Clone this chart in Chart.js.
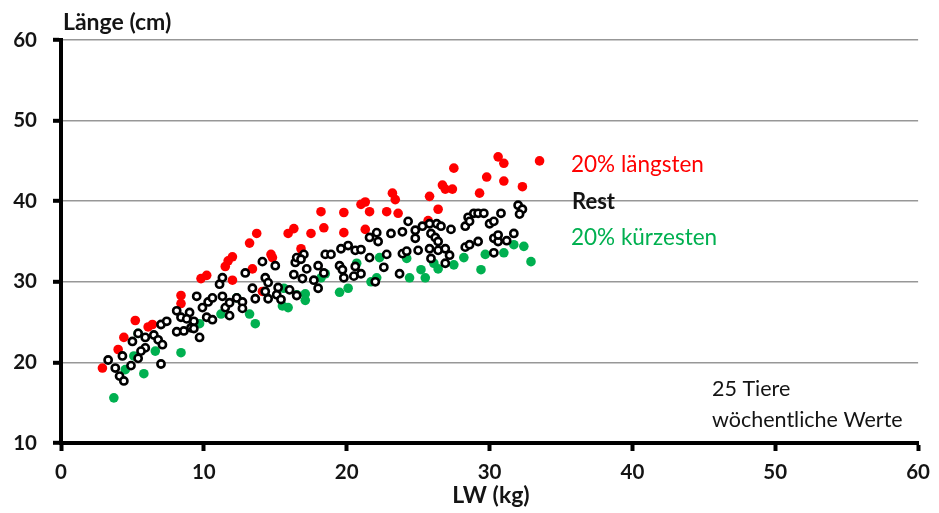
<!DOCTYPE html>
<html>
<head>
<meta charset="utf-8">
<script src="https://cdn.jsdelivr.net/npm/chart.js@4/dist/chart.umd.min.js"></script>
<style>
  html, body { margin: 0; padding: 0; background: #fff; }
  #wrap { width: 939px; height: 513px; position: relative; }
</style>
</head>
<body>
<div id="wrap"><canvas id="c" width="939" height="513"></canvas></div>
<script>
// ---- data (LW in kg, Länge in cm) ----
const xTicks = [0, 10, 20, 30, 40, 50, 60];
const yTicks = [10, 20, 30, 40, 50, 60];
const seriesNames = ["20% längsten", "Rest", "20% kürzesten"];
const noteLines = ["25 Tiere", "wöchentliche Werte"];
const axisTitleX = "LW (kg)";
const axisTitleY = "Länge (cm)";

const longestPoints = [
  [2.9,19.3],[4.0,21.6],[4.4,23.1],[5.2,25.2],[6.1,24.4],[6.4,24.7],[8.4,28.3],[8.4,27.3],
  [9.8,30.4],[10.2,30.8],[11.5,31.9],[11.7,32.6],[12.0,33.1],[12.0,30.2],[13.2,34.8],[13.7,36.0],
  [13.4,31.6],[14.7,33.4],[14.8,33.0],[14.1,28.8],[15.9,36.0],[16.3,36.6],[16.8,34.1],[17.5,36.0],
  [18.2,38.7],[18.4,36.7],[19.8,38.6],[19.8,36.1],[21.0,39.6],[21.3,39.9],[21.6,38.7],[21.3,36.5],
  [22.8,38.7],[23.6,38.5],[23.2,41.0],[23.4,40.2],[25.8,40.6],[26.4,39.0],[25.7,37.6],[26.7,42.0],
  [26.9,41.5],[27.4,41.5],[27.5,44.1],[29.3,41.0],[29.8,43.0],[31.0,42.5],[30.6,45.5],[31.0,44.7],
  [32.3,41.8],[33.5,45.0]
];

const restPoints = [
  [3.3,20.3],[3.8,19.3],[4.1,18.3],[4.4,17.7],[4.3,20.8],[5.0,22.6],[5.4,23.6],[5.9,23.1],
  [5.9,21.8],[5.6,21.4],[5.4,20.5],[4.9,19.6],[6.5,23.4],[6.8,22.8],[7.1,22.2],[7.0,19.8],
  [7.0,24.7],[7.4,25.1],[8.1,26.4],[8.4,25.6],[9.0,26.2],[9.3,25.1],[8.1,23.8],[8.6,23.9],
  [9.1,24.3],[9.5,28.2],[8.8,25.4],[9.7,23.1],[10.2,25.6],[10.6,25.3],[9.9,26.8],[10.3,27.5],
  [10.6,28.0],[11.1,29.7],[11.3,30.5],[11.3,28.2],[11.5,26.8],[11.8,27.4],[11.8,25.8],[9.3,24.2],
  [12.3,28.0],[12.7,27.5],[12.7,26.7],[12.9,31.1],[13.4,29.2],[13.6,27.9],[14.1,32.5],[14.3,30.5],
  [14.5,29.9],[14.3,28.8],[14.5,27.9],[15.0,32.0],[15.1,28.4],[15.4,27.8],[15.2,29.3],[16.0,29.0],
  [16.3,30.9],[16.4,32.4],[16.5,33.0],[17.0,33.4],[16.8,32.8],[17.2,31.6],[16.9,30.4],[17.7,30.2],
  [18.0,32.0],[18.0,29.2],[18.5,33.4],[18.9,33.4],[18.4,31.1],[16.5,28.3],[19.6,34.1],[20.1,34.5],
  [19.5,32.0],[19.7,31.5],[19.8,30.5],[20.5,30.7],[20.6,31.9],[20.6,33.9],[21.0,34.0],[21.6,35.5],
  [22.1,36.1],[22.2,35.0],[21.6,33.0],[21.0,31.0],[22.0,30.0],[22.8,33.4],[23.1,36.0],[23.9,36.2],
  [24.3,37.5],[23.9,33.5],[24.2,33.8],[23.7,31.0],[22.6,31.8],[25.0,33.9],[24.8,36.4],[24.8,35.4],
  [25.3,36.9],[25.8,37.2],[26.3,37.2],[26.6,36.9],[25.9,36.0],[26.2,35.5],[26.4,35.0],[25.8,34.1],
  [26.4,33.9],[26.9,34.1],[25.9,32.9],[27.3,36.5],[26.9,32.3],[27.2,33.3],[28.5,38.0],[28.9,38.5],
  [29.2,38.5],[29.6,38.5],[28.3,36.9],[28.6,37.5],[30.0,37.2],[30.3,37.5],[30.8,38.5],[32.0,39.5],
  [32.3,39.0],[32.1,38.4],[28.3,34.3],[28.6,34.6],[29.2,35.0],[30.3,35.4],[30.6,35.0],[31.2,35.1],
  [31.7,36.0],[30.3,33.6],[30.6,35.8]
];

const shortestPoints = [
  [3.7,15.6],[4.5,19.1],[5.1,20.8],[5.8,18.6],[6.6,21.4],[5.4,23.6],[8.4,21.2],[9.7,24.8],
  [11.2,26.0],[12.3,28.0],[13.2,26.0],[13.6,24.8],[15.6,29.2],[15.5,27.0],[15.9,26.8],[16.5,28.4],
  [17.1,28.5],[17.1,27.7],[18.2,30.5],[18.5,31.0],[19.5,28.7],[20.1,29.2],[20.7,32.3],[21.7,30.0],
  [22.1,30.5],[22.3,33.0],[24.2,32.9],[24.4,30.5],[25.2,31.5],[25.5,30.5],[26.1,32.3],[26.4,31.6],
  [27.5,32.1],[28.2,33.0],[29.4,31.5],[29.7,33.4],[31.0,33.6],[31.7,34.6],[32.4,34.4],[32.9,32.5]
];

const toXY = arr => arr.map(p => ({ x: p[0], y: p[1] }));

const FONT = "Lato, 'Open Sans', sans-serif";
const RED = "#FF0000", GREEN = "#00B050", TXT = "#141414";

const textPlugin = {
  id: 'texts',
  afterDraw(chart) {
    const ctx = chart.ctx;
    ctx.save();
    ctx.textBaseline = 'alphabetic';
    ctx.textAlign = 'left';
    // y axis title
    ctx.font = "bold 23px " + FONT;
    ctx.fillStyle = TXT;
    ctx.fillText(axisTitleY, 63, 30);
    // x axis title
    ctx.textAlign = 'center';
    ctx.font = "bold 23px " + FONT;
    ctx.fillText(axisTitleX, 491, 503);
    // legend texts
    ctx.textAlign = 'left';
    ctx.font = "22.5px " + FONT;
    ctx.fillStyle = RED;
    ctx.fillText(seriesNames[0], 571, 172);
    ctx.font = "bold 22px " + FONT;
    ctx.fillStyle = TXT;
    ctx.fillText(seriesNames[1], 572, 209);
    ctx.font = "22.5px " + FONT;
    ctx.fillStyle = GREEN;
    ctx.fillText(seriesNames[2], 571, 245);
    // note
    ctx.font = "21.5px " + FONT;
    ctx.fillStyle = TXT;
    ctx.fillText(noteLines[0], 712, 396);
    ctx.fillText(noteLines[1], 712, 427);
    ctx.restore();
  }
};

new Chart(document.getElementById('c'), {
  type: 'scatter',
  data: {
    datasets: [
      {
        label: seriesNames[1],
        data: toXY(restPoints),
        order: 0,
        pointStyle: 'circle',
        pointRadius: 3.6,
        pointBorderWidth: 2.6,
        borderColor: '#000',
        backgroundColor: '#fff',
        pointBackgroundColor: '#fff',
        pointBorderColor: '#000'
      },
      {
        label: seriesNames[0],
        data: toXY(longestPoints),
        order: 1,
        pointRadius: 4.8,
        pointBorderWidth: 0,
        backgroundColor: RED,
        borderColor: RED
      },
      {
        label: seriesNames[2],
        data: toXY(shortestPoints),
        order: 2,
        pointRadius: 4.8,
        pointBorderWidth: 0,
        backgroundColor: GREEN,
        borderColor: GREEN
      }
    ]
  },
  options: {
    responsive: false,
    animation: false,
    events: [],
    layout: { padding: { left: 0, top: 40, right: 16, bottom: 0 } },
    plugins: { legend: { display: false }, tooltip: { enabled: false }, title: { display: false } },
    scales: {
      x: {
        type: 'linear',
        min: 0, max: 60,
        afterBuildTicks: s => { s.ticks = xTicks.map(v => ({ value: v })); },
        afterFit: s => { s.height = 70; },
        border: { display: true, color: '#000', width: 4 },
        grid: { drawOnChartArea: false, drawTicks: true, tickLength: 8, tickWidth: 4, tickColor: '#000' },
        ticks: { color: TXT, font: { family: FONT, size: 20.5, weight: 'bold' }, padding: 9, maxRotation: 0 }
      },
      y: {
        type: 'linear',
        min: 10, max: 60,
        afterBuildTicks: s => { s.ticks = yTicks.map(v => ({ value: v })); },
        afterFit: s => { s.width = 61; },
        border: { display: true, color: '#000', width: 4 },
        grid: {
          drawOnChartArea: true, drawTicks: true, tickLength: 8, tickWidth: 4, tickColor: '#000',
          color: ctx => (ctx.tick && ctx.tick.value === 10) ? 'rgba(0,0,0,0)' : '#979797',
          lineWidth: 1.6
        },
        ticks: { color: TXT, font: { family: FONT, size: 20.5, weight: 'bold' }, padding: 16 }
      }
    }
  },
  plugins: [textPlugin]
});
</script>
</body>
</html>
